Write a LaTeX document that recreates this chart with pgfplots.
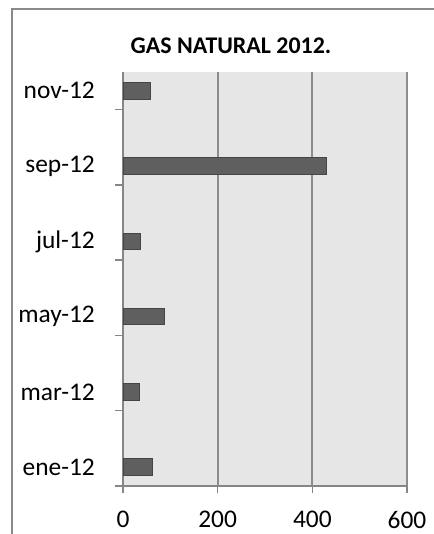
\documentclass[border=0pt]{standalone}
\usepackage{fontspec}
\setmainfont{Carlito}
\usepackage{pgfplots}
\pgfplotsset{compat=1.18}
\definecolor{bgGray}{HTML}{E6E6E6}
\definecolor{gridGray}{HTML}{8C8C8C}
\definecolor{axisGray}{HTML}{868686}
\definecolor{barFill}{HTML}{5F5F5F}
\definecolor{barDraw}{HTML}{454545}
\definecolor{frameGray}{HTML}{8A8A8A}
\begin{document}
\begin{tikzpicture}
\useasboundingbox (0,0) rectangle (434bp,534bp);
\fill[white] (0,0) rectangle (434bp,534bp);
\draw[frameGray, line width=1.5bp] (12bp,-2bp) -- (12bp,525bp) -- (436bp,525bp);
\node[font=\fontsize{24}{28}\selectfont\bfseries, anchor=center] at (231bp,488bp) {GAS NATURAL 2012.};
\begin{axis}[
  at={(123bp,48bp)}, anchor=south west,
  scale only axis, width=284bp, height=414bp,
  xbar, bar width=16.5bp,
  xmin=0, xmax=600, ymin=-0.5, ymax=10.5,
  xtick={0,200,400,600},
  ytick={0,2,4,6,8,10},
  yticklabels={ene-12,mar-12,may-12,jul-12,sep-12,nov-12},
  minor ytick={-0.5,1.5,3.5,5.5,7.5,9.5},
  axis background/.style={fill=bgGray},
  xmajorgrids,
  grid style={gridGray, line width=1.7bp},
  axis x line*=bottom, axis y line*=left,
  axis line style={-, draw=axisGray, line width=2bp},
  tick align=outside,
  major tick length=7bp, minor tick length=8bp,
  major y tick style={draw=none},
  minor y tick style={draw=axisGray, line width=1.5bp},
  major x tick style={draw=axisGray, line width=1.5bp},
  tick label style={font=\fontsize{25.5}{30}\selectfont},
  /pgf/number format/assume math mode=true,
  yticklabel style={anchor=east, inner sep=0pt, xshift=-21bp},
  xticklabel style={anchor=north, inner sep=0pt, yshift=-18bp},
  clip=false,
]
\addplot[fill=barFill, draw=barDraw, line width=1bp] coordinates {
  (63,0) (34.5,2) (87,4) (36,6) (429,8) (58.5,10)
};
\end{axis}
\end{tikzpicture}
\end{document}
